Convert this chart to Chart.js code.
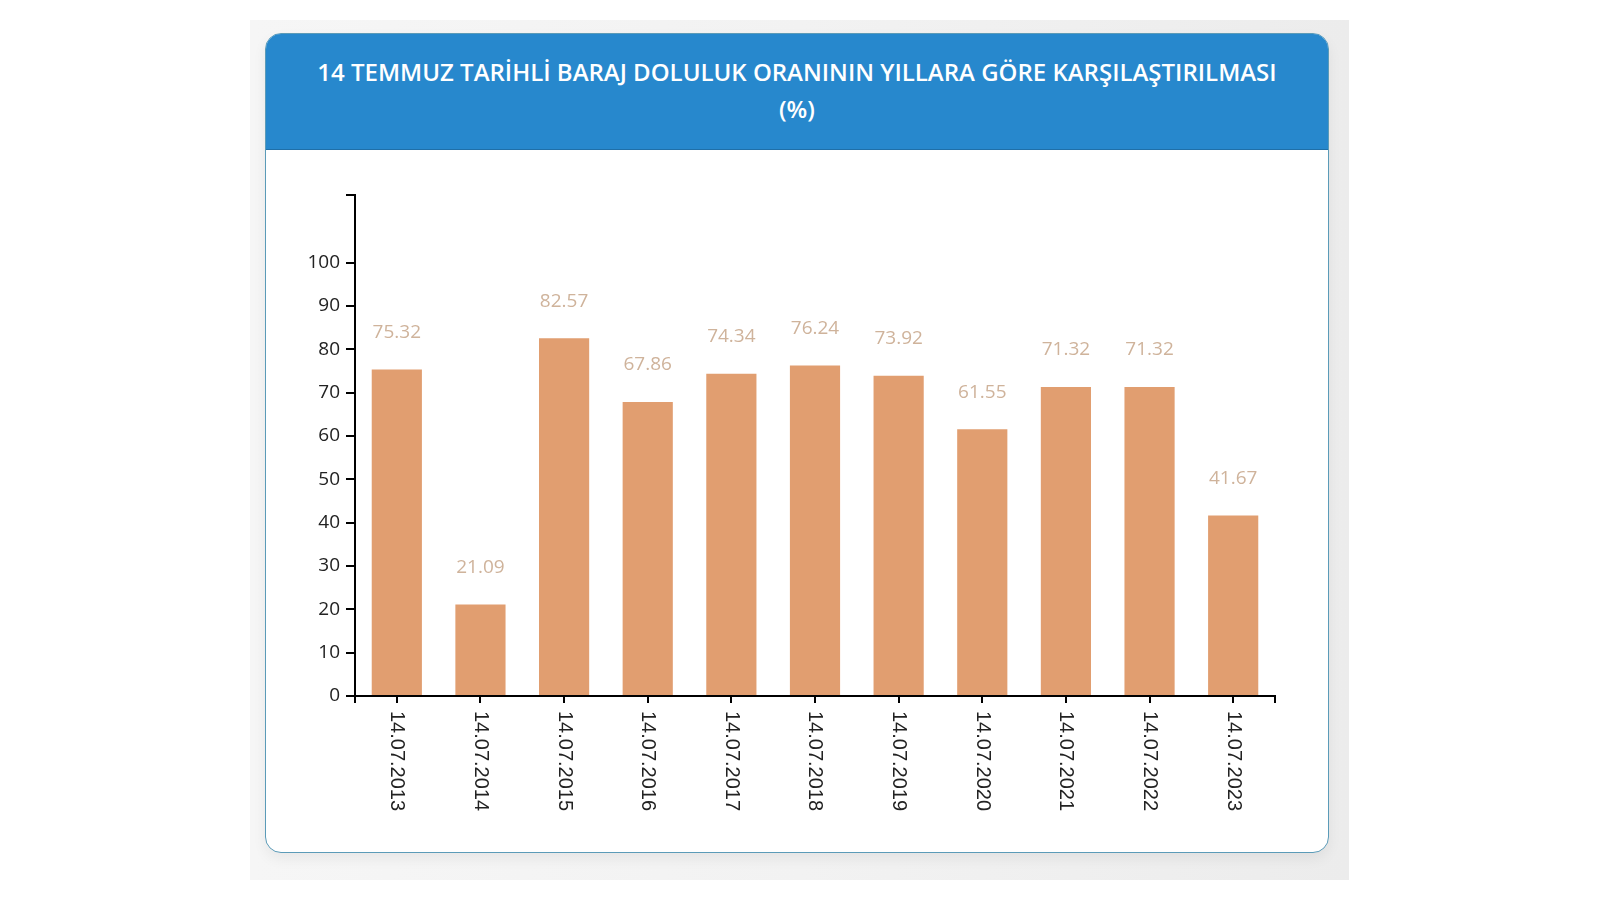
<!DOCTYPE html>
<html>
<head>
<meta charset="utf-8">
<script src="https://cdn.jsdelivr.net/npm/chart.js@4/dist/chart.umd.min.js"></script>
<style>
  body { margin: 0; background: #fff; width: 1600px; height: 900px; overflow: hidden; font-family: "Open Sans", sans-serif; }
  .shade { position: absolute; left: 250px; top: 20px; width: 1099px; height: 860px;
    background: linear-gradient(to right, #f6f6f6, #f2f2f2 50%, #ececec); }
  .card { position: absolute; left: 265px; top: 33px; width: 1062px; height: 818px;
    background: #fff; border: 1px solid #5b9bb8; border-radius: 16px; overflow: hidden;
    box-shadow: 0 6px 14px rgba(0,0,0,0.06); }
  .head { height: 116px; background: #2788cd; border-bottom: 1px solid #1f6fa8; color: #fff;
    text-align: center; font-weight: 600; font-size: 24px; line-height: 37px; padding-top: 19px; box-sizing: border-box; }
  #chart { position: absolute; left: 0; top: 116px; }
</style>
</head>
<body>
<div class="shade"></div>
<div class="card">
  <div class="head">14 TEMMUZ TARİHLİ BARAJ DOLULUK ORANININ YILLARA GÖRE KARŞILAŞTIRILMASI<br>(%)</div>
  <canvas id="chart" width="1062" height="702"></canvas>
</div>
<script>
const dates = ["14.07.2013", "14.07.2014", "14.07.2015", "14.07.2016", "14.07.2017", "14.07.2018",
  "14.07.2019", "14.07.2020", "14.07.2021", "14.07.2022", "14.07.2023"];
const fillRates = [75.32, 21.09, 82.57, 67.86, 74.34, 76.24, 73.92, 61.55, 71.32, 71.32, 41.67];
const yTicks = [0, 10, 20, 30, 40, 50, 60, 70, 80, 90, 100];
const yMax = 115.6;

// value labels over bars, rotated date labels, and outer end ticks
const decor = {
  id: 'decor',
  afterDatasetsDraw(chart) {
    const ctx = chart.ctx;
    const meta = chart.getDatasetMeta(0);
    const area = chart.chartArea;
    const xs = chart.scales.x;
    ctx.save();
    ctx.fillStyle = '#cfb39b';
    ctx.font = '19px "Open Sans"';
    ctx.textAlign = 'center';
    ctx.textBaseline = 'middle';
    meta.data.forEach((bar, i) => {
      ctx.fillText(fillRates[i].toFixed(2), bar.x, bar.y - 37);
    });

    ctx.fillStyle = '#222';
    ctx.font = '20px "Liberation Sans", Arial';
    ctx.textAlign = 'left';
    dates.forEach((d, i) => {
      const x = xs.getPixelForTick(i);
      ctx.save();
      ctx.translate(x, area.bottom + 15);
      ctx.rotate(Math.PI / 2);
      ctx.fillText(d, 0, 0);
      ctx.restore();
    });

    ctx.strokeStyle = '#000';
    ctx.lineWidth = 2;
    ctx.beginPath();
    ctx.moveTo(area.left, area.bottom);
    ctx.lineTo(area.left, area.bottom + 7);
    ctx.moveTo(area.right, area.bottom);
    ctx.lineTo(area.right, area.bottom + 7);
    ctx.stroke();
    ctx.restore();
  }
};

new Chart(document.getElementById('chart'), {
  type: 'bar',
  data: {
    labels: dates,
    datasets: [{
      data: fillRates,
      backgroundColor: '#e19e70',
      barPercentage: 0.6,
      categoryPercentage: 1.0
    }]
  },
  options: {
    responsive: false,
    animation: false,
    layout: { padding: { top: 45, right: 53, left: 0, bottom: 0 } },
    plugins: { legend: { display: false }, tooltip: { enabled: false } },
    scales: {
      x: {
        afterFit(s) { s.height = 156; },
        border: { color: '#000', width: 2 },
        grid: { drawOnChartArea: false, offset: false, color: '#000', lineWidth: 2, tickLength: 7 },
        ticks: { display: false }
      },
      y: {
        min: 0,
        max: yMax,
        afterFit(s) { s.width = 89; },
        afterBuildTicks(s) {
          s.ticks = yTicks.map(v => ({ value: v })).concat([{ value: yMax }]);
        },
        border: { color: '#000', width: 2 },
        grid: { drawOnChartArea: false, color: '#000', lineWidth: 2, tickLength: 9 },
        ticks: {
          color: '#222',
          padding: 6,
          font: { family: 'Open Sans', size: 19 },
          callback: v => (v > 100 ? '' : v)
        }
      }
    }
  },
  plugins: [decor]
});
</script>
</body>
</html>
